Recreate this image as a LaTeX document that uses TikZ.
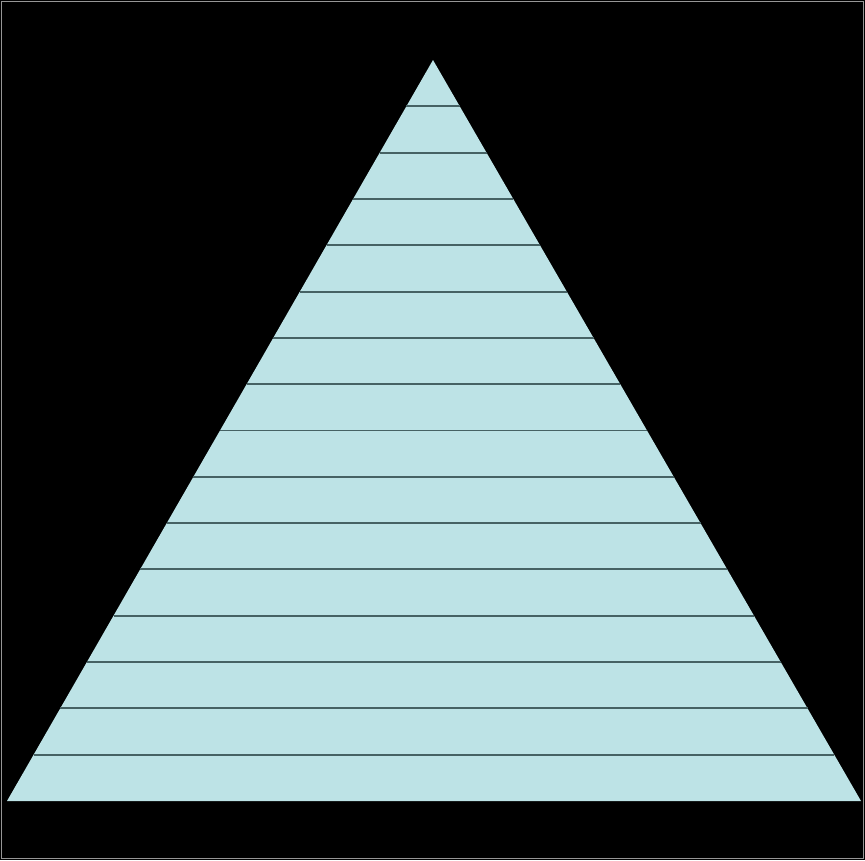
\documentclass[tikz,border=0pt]{standalone}
\usepackage{tikz}
\usetikzlibrary{calc}
\definecolor{paleblue}{RGB}{189,227,230}
\definecolor{bandline}{RGB}{70,98,100}
\definecolor{frame}{RGB}{150,150,150}

\begin{document}
\begin{tikzpicture}[x=0.02cm,y=-0.02cm]
  % background and thin frame
  \fill[black] (0,0) rectangle (865,860);
  \draw[frame,line width=0.8pt] (1.5,1.5) rectangle (863.5,858.5);
  \coordinate (apex) at (433,60);
  \coordinate (left) at (7,801);
  \coordinate (right) at (861,801);
  \fill[paleblue] (apex) -- (left) -- (right) -- cycle;
  \foreach \k in {1,...,15}
    \draw[bandline,line width=1.1pt] ($(apex)!\k/16!(left)$) -- ($(apex)!\k/16!(right)$);
\end{tikzpicture}
\end{document}
